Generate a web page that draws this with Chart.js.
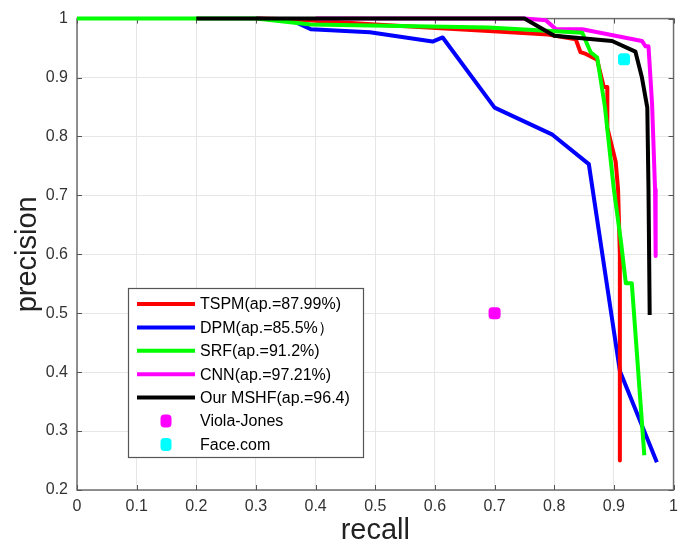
<!DOCTYPE html>
<html>
<head>
<meta charset="utf-8">
<script src="https://cdn.jsdelivr.net/npm/chart.js@4.4.1/dist/chart.umd.min.js"></script>
<style>
html,body{margin:0;padding:0;background:#fff;}
#wrap{width:685px;height:545px;position:relative;}
</style>
</head>
<body>
<div id="wrap"><canvas id="c" width="685" height="545"></canvas></div>
<script>
// ---- data ----
const xTickLabels = ['0','0.1','0.2','0.3','0.4','0.5','0.6','0.7','0.8','0.9','1'];
const yTickLabels = ['0.2','0.3','0.4','0.5','0.6','0.7','0.8','0.9','1'];

const tspmRecall = [0.3, 0.36, 0.5, 0.69, 0.79, 0.836, 0.844, 0.853, 0.872, 0.883, 0.889, 0.889, 0.903, 0.907, 0.91, 0.91];
const tspmPrec   = [1, 0.999, 0.99, 0.979, 0.973, 0.965, 0.943, 0.94, 0.93, 0.884, 0.884, 0.815, 0.757, 0.71, 0.6, 0.25];

const dpmRecall = [0.3, 0.36, 0.392, 0.491, 0.596, 0.613, 0.70, 0.797, 0.858, 0.91, 0.972];
const dpmPrec   = [1, 0.997, 0.982, 0.977, 0.961, 0.968, 0.849, 0.803, 0.753, 0.402, 0.247];

const srfRecall = [0, 0.3, 0.392, 0.69, 0.757, 0.847, 0.861, 0.872, 0.885, 0.893, 0.90, 0.912, 0.92, 0.93, 0.951];
const srfPrec   = [1, 1, 0.99, 0.985, 0.981, 0.976, 0.943, 0.934, 0.85, 0.775, 0.71, 0.62, 0.551, 0.551, 0.259];

const cnnRecall = [0.4, 0.75, 0.786, 0.803, 0.847, 0.947, 0.953, 0.958, 0.964, 0.969, 0.97];
const cnnPrec   = [1, 1, 0.997, 0.982, 0.982, 0.962, 0.953, 0.953, 0.855, 0.71, 0.597];

const mshfRecall = [0.2, 0.75, 0.80, 0.897, 0.936, 0.947, 0.956, 0.958, 0.96];
const mshfPrec   = [1, 1, 0.971, 0.962, 0.944, 0.90, 0.849, 0.71, 0.497];

const violaRecall = [0.7];
const violaPrec   = [0.5];
const faceRecall  = [0.917];
const facePrec    = [0.931];

const seriesNames = ['TSPM(ap.=87.99%)', 'DPM(ap.=85.5%）', 'SRF(ap.=91.2%)', 'CNN(ap.=97.21%)', 'Our MSHF(ap.=96.4)', 'Viola-Jones', 'Face.com'];
const seriesColors = ['#ff0000', '#0000ff', '#00ff00', '#ff00ff', '#000000', '#ff00ff', '#00ffff'];

function pts(xs, ys){ return xs.map((x,i)=>({x:x, y:ys[i]})); }

const FONT = "'Liberation Sans', Arial, Helvetica, sans-serif";

function lineDs(i, xs, ys, order){
  return { label: seriesNames[i], data: pts(xs, ys), showLine: true, borderColor: seriesColors[i],
    backgroundColor: seriesColors[i], borderWidth: 4, pointRadius: 0, pointHoverRadius: 0,
    tension: 0, clip: false, order: order, borderJoinStyle: 'round', borderCapStyle: 'butt', isLine: true };
}
function markDs(i, xs, ys){
  return { label: seriesNames[i], data: pts(xs, ys), showLine: false, borderColor: seriesColors[i],
    backgroundColor: seriesColors[i], pointStyle: 'rectRounded', pointRadius: 7, borderWidth: 0,
    clip: false, order: -1, isLine: false };
}

const frameAndText = {
  id: 'frameAndText',
  beforeDatasetsDraw(chart){
    const {ctx, chartArea:a, scales} = chart;
    ctx.save();
    ctx.strokeStyle = '#6e6e6e';
    ctx.lineWidth = 1.5;
    ctx.strokeRect(a.left, a.top, a.right - a.left, a.bottom - a.top);
    ctx.lineWidth = 1;
    ctx.strokeStyle = '#555';
    const tl = 5;
    scales.x.ticks.forEach(t => {
      const px = Math.round(scales.x.getPixelForValue(t.value)) + 0.5;
      ctx.beginPath(); ctx.moveTo(px, a.bottom); ctx.lineTo(px, a.bottom - tl); ctx.stroke();
      ctx.beginPath(); ctx.moveTo(px, a.top); ctx.lineTo(px, a.top + tl); ctx.stroke();
    });
    scales.y.ticks.forEach(t => {
      const py = Math.round(scales.y.getPixelForValue(t.value)) + 0.5;
      ctx.beginPath(); ctx.moveTo(a.left, py); ctx.lineTo(a.left + tl, py); ctx.stroke();
      ctx.beginPath(); ctx.moveTo(a.right, py); ctx.lineTo(a.right - tl, py); ctx.stroke();
    });
    ctx.restore();
  },
  afterDraw(chart){
    const {ctx, chartArea:a} = chart;
    ctx.save();
    // axis titles
    ctx.fillStyle = '#222';
    ctx.font = '29px ' + FONT;
    ctx.textAlign = 'center';
    ctx.textBaseline = 'middle';
    ctx.fillText('recall', (a.left + a.right) / 2, 531);
    ctx.translate(28, (a.top + a.bottom) / 2);
    ctx.rotate(-Math.PI / 2);
    ctx.fillText('precision', 0, 0);
    ctx.restore();

    // legend box
    ctx.save();
    const bx = 128, by = 288, bw = 235, bh = 169;
    ctx.fillStyle = '#fff';
    ctx.fillRect(bx, by, bw, bh);
    ctx.strokeStyle = '#555';
    ctx.lineWidth = 1.2;
    ctx.strokeRect(bx + 0.5, by + 0.5, bw, bh);
    ctx.font = '16px ' + FONT;
    ctx.textAlign = 'left';
    ctx.textBaseline = 'middle';
    chart.data.datasets.forEach((ds, i) => {
      const cy = 304 + i * 23.4;
      if (ds.isLine) {
        ctx.strokeStyle = ds.borderColor;
        ctx.lineWidth = 4;
        ctx.beginPath(); ctx.moveTo(137, cy); ctx.lineTo(195, cy); ctx.stroke();
      } else {
        ctx.fillStyle = ds.backgroundColor;
        const s = 11, r = 4;
        const x0 = 166 - s/2, y0 = cy - 6.5;
        ctx.beginPath();
        ctx.roundRect(x0, y0, s, 13, r);
        ctx.fill();
      }
      ctx.fillStyle = '#000';
      ctx.fillText(ds.label, 200, cy + 1);
    });
    ctx.restore();
  }
};

new Chart(document.getElementById('c'), {
  type: 'scatter',
  data: {
    datasets: [
      lineDs(0, tspmRecall, tspmPrec, 3),
      lineDs(1, dpmRecall, dpmPrec, 4),
      lineDs(2, srfRecall, srfPrec, 1),
      lineDs(3, cnnRecall, cnnPrec, 2),
      lineDs(4, mshfRecall, mshfPrec, 0),
      markDs(5, violaRecall, violaPrec),
      markDs(6, faceRecall, facePrec)
    ]
  },
  options: {
    responsive: false,
    animation: false,
    events: [],
    layout: { padding: { top: 13, right: 5, left: 0, bottom: 0 } },
    plugins: { legend: { display: false }, tooltip: { enabled: false }, title: { display: false } },
    scales: {
      x: {
        type: 'linear', min: 0, max: 1,
        afterFit(s){ s.height = 55; },
        grid: { color: '#e6e6e6', drawTicks: false, lineWidth: 1 },
        border: { display: false },
        ticks: { stepSize: 0.1, autoSkip: false, maxRotation: 0, padding: 7,
          color: '#333', font: { family: FONT, size: 16 },
          callback: (v, i) => xTickLabels[i] }
      },
      y: {
        type: 'linear', min: 0.2, max: 1,
        afterFit(s){ s.width = 77; },
        grid: { color: '#e6e6e6', drawTicks: false, lineWidth: 1 },
        border: { display: false },
        ticks: { stepSize: 0.1, autoSkip: false, padding: 9,
          color: '#333', font: { family: FONT, size: 16 },
          callback: (v, i) => yTickLabels[i] }
      }
    }
  },
  plugins: [frameAndText]
});
</script>
</body>
</html>
